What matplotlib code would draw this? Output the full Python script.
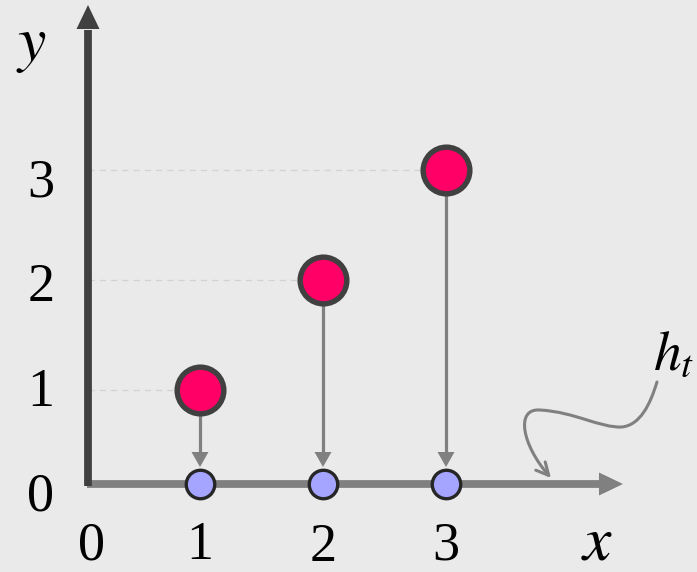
import matplotlib
matplotlib.use("Agg")
import matplotlib.pyplot as plt
from matplotlib.path import Path
from matplotlib.patches import FancyArrowPatch

# ---- data ----
x_vals = [1, 2, 3]
y_vals = [1, 2, 3]
x_tick_labels = ["0", "1", "2", "3"]
y_tick_labels = ["0", "1", "2", "3"]
x_tick_vals = [0.12, 1, 2, 3]
y_tick_vals = [0, 1, 2, 3]

# ---- styling ----
BG = "#EAEAEA"
RED = "#FF0066"
BLUE = "#A5A5FF"
DARK = "#404040"
GRAY = "#808080"

plt.rcParams["mathtext.fontset"] = "stix"
plt.rcParams["font.family"] = ["Liberation Serif", "DejaVu Serif"]

fig = plt.figure(figsize=(6.97, 5.72), dpi=100)
fig.patch.set_facecolor(BG)
ax = fig.add_axes([0, 0, 1, 1])
ax.set_facecolor(BG)
ax.axis("off")
PX_X, PX_Y = 123.0, 110.0   # pixels per data unit
ax.set_xlim(-77 / PX_X, 620 / PX_X)
ax.set_ylim(-72 / PX_Y, 500 / PX_Y)

def dx(p):
    return p / PX_X

def dy(p):
    return p / PX_Y

x0 = dx(11)        # y-axis position
y0 = dy(16)        # x-axis position

# gridlines
for xv, yv in zip(x_vals, y_vals):
    ax.plot([x0, xv], [yv, yv], color="#D2D2D2", lw=0.9, ls=(0, (5, 4)), zorder=1)

# y axis with arrow
ax.plot([x0, x0], [y0 - dy(2), 500 / PX_Y - dy(30)], color=DARK, lw=5.6,
        solid_capstyle="butt", zorder=3)
ytip = 500 / PX_Y - dy(5)
ax.fill([x0 - dx(11.5), x0 + dx(11.5), x0], [ytip - dy(24), ytip - dy(24), ytip],
        color=DARK, lw=0, zorder=3)

# x axis with arrow
xtip = dx(623 - 77)
ax.plot([x0 - dx(1), xtip - dx(22)], [y0, y0], color=GRAY, lw=5.6,
        solid_capstyle="butt", zorder=2)
ax.fill([xtip - dx(24), xtip - dx(24), xtip], [y0 + dy(11.5), y0 - dy(11.5), y0],
        color=GRAY, lw=0, zorder=2)

# stems with arrowheads
for xv, yv in zip(x_vals, y_vals):
    tip = y0 + dy(17)
    ax.plot([xv, xv], [yv, tip + dy(13)], color=GRAY, lw=2.3,
            solid_capstyle="butt", zorder=4)
    ax.fill([xv - dx(8.5), xv + dx(8.5), xv], [tip + dy(15), tip + dy(15), tip],
            color=GRAY, lw=0, zorder=4)

# points
ax.plot(x_vals, y_vals, "o", ms=33.6, mfc=RED, mec=DARK, mew=3.9, zorder=6)
ax.plot(x_vals, [y0] * len(x_vals), "o", ms=20.5, mfc=BLUE, mec="#262626",
        mew=2.4, zorder=6)

# tick labels
for v, lab in zip(y_tick_vals, y_tick_labels):
    ly = (500 - (497 - 104.7 * v)) / PX_Y
    ax.text(dx(41 - 77), ly, lab, fontsize=39, ha="center", va="center")
for v, lab in zip(x_tick_vals, x_tick_labels):
    ax.text(v, dy(500 - 546) if lab != "2" else dy(500 - 547.5), lab,
            fontsize=39, ha="center", va="center")

# axis names
ax.text(dx(31 - 77), dy(500 - 46), "$y$", fontsize=46, ha="center", va="center")
ax.text(dx(597 - 77), dy(500 - 544), "$x$", fontsize=46, ha="center", va="center")
ax.text(dx(674 - 77), dy(500 - 355), "$h_t$", fontsize=40, ha="center", va="center")

# curly annotation arrow
pts_px = [(657, 382), (650, 405), (640, 425), (622, 427),
          (600, 428), (575, 412), (540, 410),
          (515, 408), (522, 445), (551, 478)]
verts = [(dx(px - 77), dy(500 - py)) for px, py in pts_px]
codes = [Path.MOVETO] + [Path.CURVE4] * 9
curve = Path(verts, codes)
arr = FancyArrowPatch(path=curve, arrowstyle="->,head_length=9,head_width=4.5",
                      color=GRAY, lw=2.2, mutation_scale=1, zorder=5)
ax.add_patch(arr)

fig.savefig("out.png", dpi=100, facecolor=BG)
